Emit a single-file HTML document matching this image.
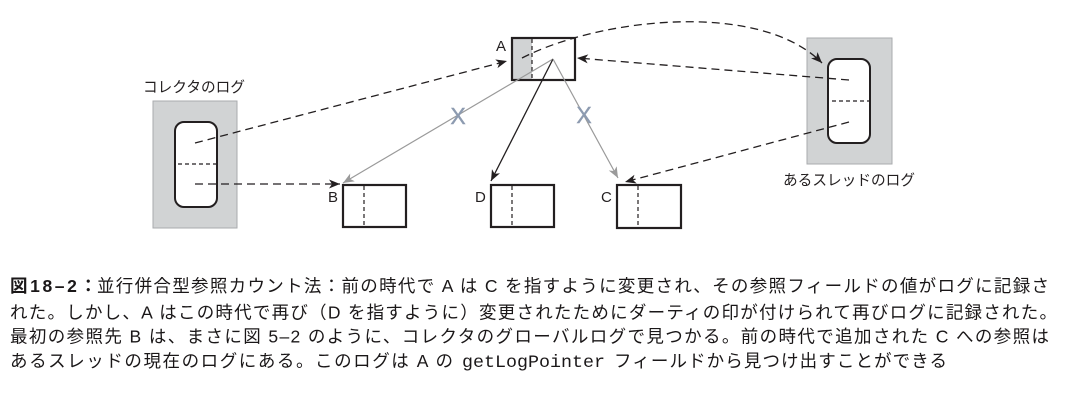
<!DOCTYPE html>
<html><head><meta charset="utf-8"><style>
html,body{margin:0;padding:0;background:#fff;}
svg{display:block;}
.cap{font-family:"Liberation Sans","Noto Sans CJK JP",sans-serif;font-size:17.5px;fill:#1a1718;}
.lbl{font-family:"Liberation Sans","Noto Sans CJK JP",sans-serif;font-size:15px;fill:#231f20;}
.mono{font-family:"Liberation Mono","Noto Sans CJK JP",monospace;font-size:17.5px;fill:#1a1718;}
</style></head><body>
<svg width="1065" height="403" viewBox="0 0 1065 403" xmlns="http://www.w3.org/2000/svg">
<defs>
<marker id="ab" markerUnits="userSpaceOnUse" markerWidth="12" markerHeight="10" refX="11" refY="4.5" orient="auto">
<path d="M0,0 L11,4.5 L0,9 L3,4.5 z" fill="#231f20"/>
</marker>
<marker id="ag" markerUnits="userSpaceOnUse" markerWidth="12" markerHeight="10" refX="11" refY="4.5" orient="auto">
<path d="M0,0 L11,4.5 L0,9 L3,4.5 z" fill="#9a9a9a"/>
</marker>
</defs>

<!-- collector log -->
<rect x="153" y="101" width="84" height="127" fill="#d1d3d4" stroke="#a9abae" stroke-width="1"/>
<rect x="175" y="122" width="42" height="85" rx="9" fill="#fff" stroke="#231f20" stroke-width="2"/>
<line x1="178" y1="164" x2="217" y2="164" stroke="#231f20" stroke-width="1.2" stroke-dasharray="4,3"/>
<text class="lbl" x="143" y="92" textLength="102" lengthAdjust="spacingAndGlyphs">コレクタのログ</text>

<!-- thread log -->
<rect x="807" y="38" width="85" height="126" fill="#d1d3d4" stroke="#a9abae" stroke-width="1"/>
<rect x="828" y="59" width="42" height="84" rx="9" fill="#fff" stroke="#231f20" stroke-width="2"/>
<line x1="832" y1="101" x2="870" y2="101" stroke="#231f20" stroke-width="1.2" stroke-dasharray="4,3"/>
<text class="lbl" x="783" y="185" textLength="132" lengthAdjust="spacingAndGlyphs">あるスレッドのログ</text>

<!-- A box -->
<rect x="512" y="38" width="20" height="42" fill="#d1d3d4"/>
<rect x="512" y="38" width="63" height="42" fill="none" stroke="#231f20" stroke-width="2.2"/>
<line x1="532" y1="39" x2="532" y2="79" stroke="#231f20" stroke-width="1.2" stroke-dasharray="4,3"/>
<text class="lbl" x="496" y="51">A</text>

<!-- B box -->
<rect x="343" y="185" width="63" height="42" fill="#fff" stroke="#231f20" stroke-width="2.2"/>
<line x1="364" y1="186" x2="364" y2="226" stroke="#231f20" stroke-width="1.2" stroke-dasharray="4,3"/>
<text class="lbl" x="328" y="202">B</text>

<!-- D box -->
<rect x="491" y="185" width="63" height="42" fill="#fff" stroke="#231f20" stroke-width="2.2"/>
<line x1="512" y1="186" x2="512" y2="226" stroke="#231f20" stroke-width="1.2" stroke-dasharray="4,3"/>
<text class="lbl" x="475" y="202">D</text>

<!-- C box -->
<rect x="617" y="185" width="64" height="43" fill="#fff" stroke="#231f20" stroke-width="2.2"/>
<line x1="638" y1="186" x2="638" y2="227" stroke="#231f20" stroke-width="1.2" stroke-dasharray="4,3"/>
<text class="lbl" x="601" y="202">C</text>

<!-- dashed arrows -->
<g fill="none" stroke="#231f20" stroke-width="1.3" stroke-dasharray="8,5">
<line x1="195" y1="143" x2="507" y2="61" marker-end="url(#ab)"/>
<line x1="195" y1="184" x2="340" y2="184" marker-end="url(#ab)"/>
<line x1="849" y1="80" x2="577" y2="58" marker-end="url(#ab)"/>
<line x1="849" y1="122" x2="625" y2="182" marker-end="url(#ab)"/>
<path d="M522,58 C600,18 760,0 822,63" marker-end="url(#ab)"/>
</g>

<!-- solid arrows from A -->
<line x1="553" y1="59" x2="343" y2="183" stroke="#9a9a9a" stroke-width="1.2" marker-end="url(#ag)"/>
<line x1="553" y1="59" x2="491" y2="181" stroke="#231f20" stroke-width="1.3" marker-end="url(#ab)"/>
<line x1="553" y1="59" x2="618" y2="178" stroke="#9a9a9a" stroke-width="1.2" marker-end="url(#ag)"/>

<!-- X marks -->
<text x="458" y="124" text-anchor="middle" style="font-family:'Liberation Sans',sans-serif;font-size:23px;fill:#8d9bb0;stroke:#8d9bb0;stroke-width:0.4">X</text>
<text x="584" y="123" text-anchor="middle" style="font-family:'Liberation Sans',sans-serif;font-size:23px;fill:#8d9bb0;stroke:#8d9bb0;stroke-width:0.4">X</text>

<!-- caption -->
<text class="cap" x="10" y="292" font-weight="bold" textLength="87" lengthAdjust="spacing">図18–2：</text>
<text class="cap" x="97" y="292" textLength="952" lengthAdjust="spacing">並行併合型参照カウント法：前の時代で A は C を指すように変更され、その参照フィールドの値がログに記録さ</text>
<text class="cap" x="10" y="318.5" textLength="1047" lengthAdjust="spacing">れた。しかし、A はこの時代で再び（D を指すように）変更されたためにダーティの印が付けられて再びログに記録された。</text>
<text class="cap" x="10" y="342.5" textLength="1039" lengthAdjust="spacing">最初の参照先 B は、まさに図 5–2 のように、コレクタのグローバルログで見つかる。前の時代で追加された C への参照は</text>
<text class="cap" x="10" y="367" textLength="443" lengthAdjust="spacing">あるスレッドの現在のログにある。このログは A の</text>
<text class="mono" x="462" y="367" textLength="143" lengthAdjust="spacingAndGlyphs">getLogPointer</text>
<text class="cap" x="614" y="367" textLength="333" lengthAdjust="spacing">フィールドから見つけ出すことができる</text>
</svg>
</body></html>
